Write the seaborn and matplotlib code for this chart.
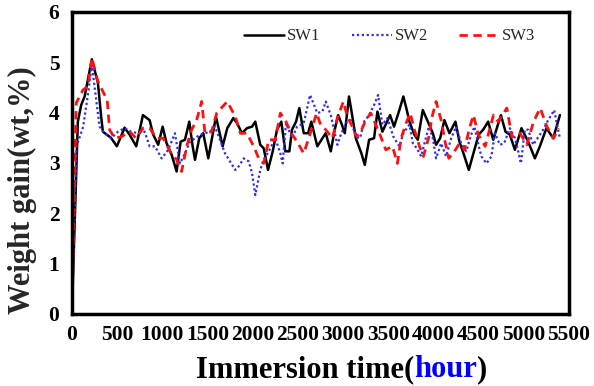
import numpy as np
import pandas as pd
import matplotlib
matplotlib.use("Agg")
import matplotlib.pyplot as plt
import seaborn as sns

sw1_h = [0, 66, 103, 141, 221, 288, 324, 343, 432, 498, 583, 639, 712, 786, 860,
         900, 955, 1004, 1048, 1104, 1159, 1203, 1251, 1299, 1336, 1362, 1409, 1453,
         1509, 1594, 1668, 1719, 1786, 1827, 1882, 1937, 1993, 2029, 2084, 2122, 2170,
         2222, 2269, 2317, 2361, 2406, 2435, 2480, 2516, 2565, 2613, 2649, 2693, 2715,
         2808, 2864, 2908, 2945, 2981, 3019, 3066, 3103, 3141, 3203, 3240, 3288, 3343,
         3380, 3435, 3520, 3564, 3623, 3667, 3705, 3734, 3789, 3827, 3882, 3938, 3993,
         4029, 4074, 4121, 4177, 4243, 4288, 4343, 4391, 4442, 4500, 4550, 4605, 4661,
         4746, 4797, 4845, 4901, 4974, 5048, 5122, 5177, 5250, 5325, 5399]
sw1_w = [0, 3.82, 4.15, 4.32, 5.06, 4.59, 3.92, 3.62, 3.50, 3.33, 3.70, 3.56, 3.33, 3.95, 3.85,
         3.56, 3.36, 3.72, 3.39, 3.16, 2.83, 3.42, 3.46, 3.82, 3.33, 3.06, 3.49, 3.59,
         3.09, 3.92, 3.33, 3.69, 3.89, 3.79, 3.59, 3.69, 3.72, 3.82, 3.36, 3.29, 2.86,
         3.23, 3.66, 3.82, 3.23, 3.23, 3.66, 3.82, 4.09, 3.59, 3.59, 3.82, 3.49, 3.33,
         3.59, 3.23, 3.66, 3.95, 3.79, 3.59, 4.32, 3.92, 3.49, 3.19, 2.96, 3.46, 3.49,
         4.02, 3.62, 3.95, 3.72, 4.05, 4.32, 4.05, 3.82, 3.56, 3.46, 4.05, 3.82, 3.59,
         3.36, 3.49, 3.85, 3.59, 3.82, 3.42, 3.13, 2.86, 3.19, 3.56, 3.66, 3.82, 3.46,
         3.95, 3.62, 3.56, 3.26, 3.69, 3.42, 3.09, 3.33, 3.69, 3.49, 3.95]

sw2_h = [0, 52, 125, 180, 221, 269, 307, 362, 435, 509, 583, 656, 731, 805, 860,
         919, 993, 1066, 1140, 1196, 1251, 1306, 1362, 1417, 1472, 1528, 1583, 1638,
         1694, 1749, 1808, 1845, 1901, 1956, 1993, 2029, 2084, 2122, 2178, 2251, 2306,
         2332, 2369, 2435, 2491, 2565, 2635, 2715, 2771, 2808, 2864, 2900, 2937, 2975,
         3030, 3085, 3141, 3188, 3232, 3288, 3343, 3387, 3435, 3490, 3557, 3601, 3623,
         3667, 3734, 3772, 3816, 3863, 3911, 3949, 3993, 4029, 4085, 4140, 4196, 4251,
         4306, 4362, 4417, 4454, 4497, 4530, 4586, 4641, 4679, 4735, 4782, 4845, 4901,
         4937, 4967, 5011, 5048, 5103, 5151, 5214, 5269, 5336, 5372, 5399]
sw2_w = [0, 3.33, 3.72, 4.39, 4.95, 4.25, 3.72, 3.59, 3.49, 3.62, 3.69, 3.62, 3.59, 3.62, 3.33,
         3.33, 3.09, 3.26, 3.59, 2.99, 3.19, 3.42, 3.49, 3.56, 3.59, 3.62, 3.72, 3.46,
         3.19, 3.03, 2.86, 2.93, 3.09, 3.03, 2.80, 2.36, 2.86, 3.06, 3.23, 3.49, 3.19,
         2.99, 3.79, 3.49, 3.72, 3.79, 4.35, 3.99, 4.02, 4.22, 3.95, 3.66, 3.36, 3.56,
         3.79, 3.85, 3.52, 3.49, 3.82, 3.95, 4.15, 4.35, 3.76, 3.89, 3.52, 3.39, 3.33,
         3.59, 3.76, 3.39, 3.29, 3.13, 3.46, 3.72, 3.49, 3.09, 3.39, 3.13, 3.49, 3.72,
         3.39, 3.23, 3.56, 3.72, 3.36, 3.13, 2.99, 3.13, 3.59, 3.36, 3.39, 3.69, 3.49,
         3.23, 2.99, 3.66, 3.66, 3.36, 3.49, 3.66, 3.85, 4.05, 3.72, 3.49]

sw3_h = [0, 48, 122, 177, 221, 288, 343, 391, 417, 473, 546, 639, 712, 786, 860,
         938, 1011, 1085, 1159, 1214, 1270, 1325, 1380, 1436, 1472, 1546, 1602, 1719,
         1808, 1863, 1937, 2011, 2067, 2122, 2178, 2251, 2306, 2361, 2417, 2491, 2565,
         2638, 2708, 2745, 2808, 2882, 2937, 3003, 3048, 3103, 3152, 3196, 3251, 3307,
         3362, 3417, 3473, 3546, 3601, 3642, 3697, 3742, 3789, 3845, 3889, 3949, 3985,
         4029, 4085, 4132, 4170, 4232, 4288, 4343, 4398, 4442, 4497, 4572, 4664, 4716,
         4812, 4867, 4956, 5033, 5107, 5181, 5255, 5328, 5383]
sw3_w = [0, 4.19, 4.45, 4.52, 5.08, 4.62, 4.42, 4.25, 3.66, 3.49, 3.52, 3.62, 3.49, 3.69, 3.69,
         3.49, 3.49, 3.23, 3.06, 2.83, 3.33, 3.66, 3.85, 4.22, 3.59, 3.62, 3.99, 4.22,
         3.92, 3.59, 3.59, 3.33, 3.09, 2.99, 3.46, 3.46, 3.99, 3.85, 3.62, 3.42, 3.19,
         3.59, 3.99, 3.79, 3.66, 3.49, 3.89, 4.22, 3.92, 3.72, 3.52, 3.62, 3.85, 3.99,
         3.76, 3.52, 3.26, 3.33, 2.99, 3.49, 3.79, 3.99, 3.66, 3.33, 3.13, 3.52, 3.92,
         4.22, 3.85, 3.39, 3.09, 3.23, 3.39, 3.26, 3.69, 3.95, 3.56, 3.33, 3.95, 3.82,
         4.09, 3.52, 3.59, 3.36, 3.82, 4.09, 3.72, 3.49, 3.69]

xticks = np.arange(0, 5501, 500)
yticks = np.arange(0, 7, 1)

sns.set_style("white")
plt.rcParams['font.family'] = ['Liberation Serif', 'DejaVu Serif']

fig = plt.figure(figsize=(5.94, 3.86), dpi=100)
ax = fig.add_axes([0.121, 0.187, 0.837, 0.782])

sns.lineplot(x=sw1_h, y=sw1_w, ax=ax, color="black", lw=1.8, sort=False,
             estimator=None, label="SW1")
sns.lineplot(x=sw2_h, y=sw2_w, ax=ax, color="#2b2bff", lw=1.6, sort=False,
             estimator=None, label="SW2", linestyle=(0, (1, 1.2)))
sns.lineplot(x=sw3_h, y=sw3_w, ax=ax, color="#ff1010", lw=2.0, sort=False,
             estimator=None, label="SW3", linestyle=(0, (3, 2)))

ax.set_xlim(0, 5500)
ax.set_ylim(0, 6)
ax.set_xticks(xticks)
ax.set_yticks(yticks)
ax.set_xticklabels([str(t) for t in xticks], fontweight="bold", fontsize=15.5)
ax.set_yticklabels([str(t) for t in yticks], fontweight="bold", fontsize=15.5)
ax.tick_params(direction="in", length=5, width=1.5, colors="black")
ax.tick_params(axis="x", pad=8)
ax.tick_params(axis="y", pad=9)
for s in ax.spines.values():
    s.set_linewidth(2.5)
    s.set_color("black")

ax.set_ylabel("")
ax.set_xlabel("")
fig.text(22 / 594, 1 - 190 / 386, "Weight gain(wt,%)", rotation=90, fontsize=22,
         fontweight="bold", ha="center", va="center")

leg = ax.legend(ncol=3, frameon=False, loc="upper right",
                bbox_to_anchor=(0.962, 0.995), prop={"family": "Liberation Serif", "size": 12},
                handlelength=2.4, handletextpad=0.15, columnspacing=1.9)

# x label with blue "hour"
fig.canvas.draw()
r = fig.canvas.get_renderer()
parts = [("Immersion time(", "black"), ("hour", "#0000ff"), (")", "black")]
kw = dict(fontsize=22, fontweight="bold", va="baseline")
widths = []
for txt, c in parts:
    t = fig.text(0, 0, txt, **kw)
    widths.append(t.get_window_extent(r).width)
    t.remove()
x0 = 342 - sum(widths) / 2
for (txt, c), w in zip(parts, widths):
    fig.text(x0 / 594, 1 - 377 / 386, txt, color=c, **kw)
    x0 += w

fig.savefig("out.png", dpi=100)
